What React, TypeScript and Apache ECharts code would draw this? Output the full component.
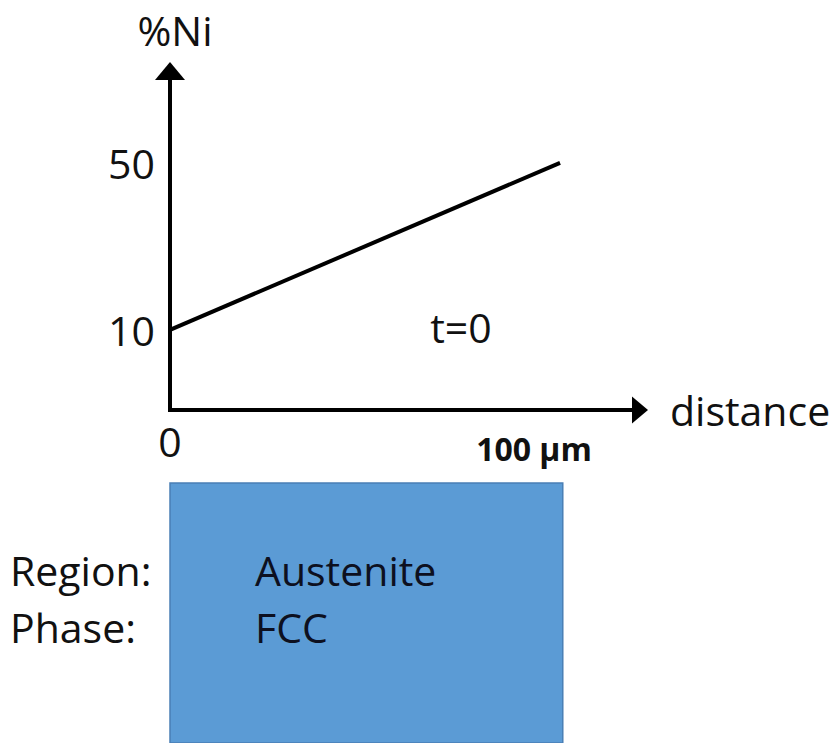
import React, { useEffect, useRef } from 'react';
import * as echarts from 'echarts';

// ---- data ----
const distanceValues = [0, 100];
const nickelPercent = [10, 50];
const yTickValues = [10, 50];
const xTickValues = [0, 100];
const xTickLabels = ['0', '100 μm'];
const sampleExtent = [0, 100.7];
const rowLabels = ['Region:', 'Phase:'];
const rowValues = ['Austenite', 'FCC'];
const timeLabel = 't=0';
const yAxisName = '%Ni';
const xAxisName = 'distance';

export default function App() {
  const ref = useRef<HTMLDivElement>(null);

  useEffect(() => {
    if (!ref.current) return;
    const chart = echarts.init(ref.current, null, { renderer: 'svg' });
    const font = '"Open Sans", "Noto Sans", sans-serif';
    const ink = '#000';
    const textBase = { fontSize: 41, fontFamily: font, fill: '#111' };

    const lineData = distanceValues.map((d, i) => [d, nickelPercent[i]]);

    chart.setOption({
      animation: false,
      backgroundColor: '#ffffff',
      grid: [
        { left: 170, top: 71, width: 470, height: 339, containLabel: false, outerBoundsMode: 'none' },
        { left: 170, top: 483, width: 470, height: 260, containLabel: false, outerBoundsMode: 'none' },
      ],
      xAxis: [
        {
          type: 'value',
          gridIndex: 0,
          min: 0,
          max: 120.5,
          name: xAxisName,
          nameLocation: 'end',
          nameGap: 30,
          nameTextStyle: { fontSize: 41, fontFamily: font, color: '#111', align: 'left', verticalAlign: 'middle' },
          axisLine: {
            onZero: false,
            symbol: ['none', 'triangle'],
            symbolSize: [27, 16],
            lineStyle: { color: ink, width: 4, cap: 'square' },
          },
          axisTick: { show: false },
          splitLine: { show: false },
          axisLabel: {
            customValues: xTickValues,
            margin: 10,
            fontSize: 41,
            fontFamily: font,
            color: '#111',
            formatter: (v: number) => {
              const i = xTickValues.indexOf(v);
              if (i < 0) return '';
              return i === 0 ? xTickLabels[i] : '{b|' + xTickLabels[i] + '}';
            },
            rich: {
              b: {
                fontSize: 32,
                fontWeight: 'bold',
                fontFamily: font,
                color: '#111',
                padding: [12, 52, 0, 0],
              },
            },
          },
        },
        { type: 'value', gridIndex: 1, min: 0, max: 120.5, show: false },
      ],
      yAxis: [
        {
          type: 'value',
          gridIndex: 0,
          min: -9.2,
          max: 72,
          name: yAxisName,
          nameLocation: 'end',
          nameGap: 41,
          nameTextStyle: {
            fontSize: 41,
            fontFamily: font,
            color: '#111',
            align: 'center',
            verticalAlign: 'middle',
            padding: [0, 0, 0, 10],
          },
          axisLine: {
            onZero: false,
            symbol: ['none', 'triangle'],
            symbolSize: [30, 18],
            lineStyle: { color: ink, width: 4, cap: 'square' },
          },
          axisTick: { show: false },
          splitLine: { show: false },
          axisLabel: {
            customValues: yTickValues,
            margin: 15,
            fontSize: 41,
            fontFamily: font,
            color: '#111',
          },
        },
        { type: 'value', gridIndex: 1, min: 0, max: 1, show: false },
      ],
      series: [
        {
          type: 'line',
          xAxisIndex: 0,
          yAxisIndex: 0,
          data: lineData,
          symbol: 'none',
          clip: false,
          lineStyle: { color: ink, width: 4 },
        },
        {
          type: 'custom',
          xAxisIndex: 1,
          yAxisIndex: 1,
          data: [[sampleExtent[0], sampleExtent[1]]],
          renderItem: (params: any, api: any) => {
            const p0 = api.coord([api.value(0), 1]);
            const p1 = api.coord([api.value(1), 0]);
            return {
              type: 'rect',
              shape: { x: p0[0], y: p0[1], width: p1[0] - p0[0], height: p1[1] - p0[1] },
              style: { fill: '#5b9bd5', stroke: '#4a7fb5', lineWidth: 1.5 },
            };
          },
        },
      ],
      graphic: [
        {
          type: 'text',
          x: 461,
          y: 327,
          z: 100,
          style: { ...textBase, text: timeLabel, align: 'center', verticalAlign: 'middle', textAlign: 'center', textVerticalAlign: 'middle' },
        },
        ...rowLabels.map((t, i) => ({
          type: 'text',
          x: 10,
          y: 570 + i * 57,
          z: 100,
          style: { ...textBase, text: t, align: 'left', verticalAlign: 'middle', textAlign: 'left', textVerticalAlign: 'middle' },
        })),
        ...rowValues.map((t, i) => ({
          type: 'text',
          x: 255,
          y: 570 + i * 57,
          z: 100,
          style: { ...textBase, fill: '#0d1020', text: t, align: 'left', verticalAlign: 'middle', textAlign: 'left', textVerticalAlign: 'middle' },
        })),
      ],
    });

    return () => chart.dispose();
  }, []);

  return (
    <div
      ref={ref}
      style={{ position: 'fixed', left: 0, top: 0, width: 838, height: 743, background: '#fff' }}
    />
  );
}
